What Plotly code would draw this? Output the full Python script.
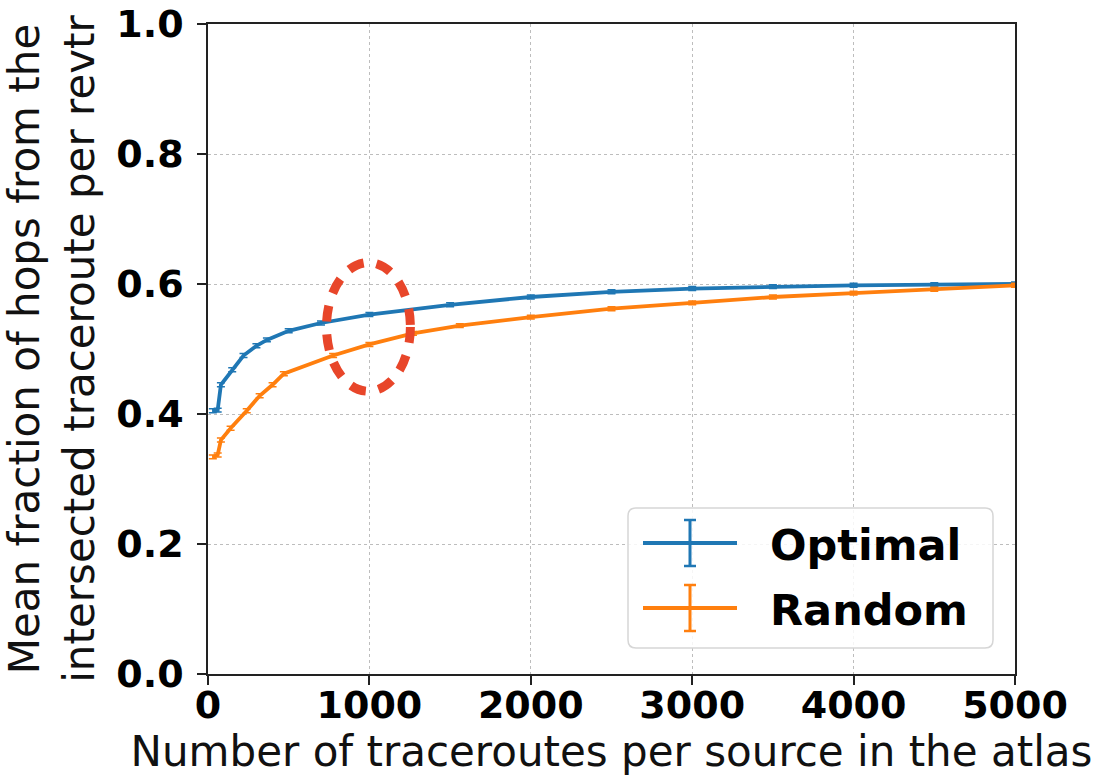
import plotly.graph_objects as go

# ---- data ----
opt_x = [30, 60, 80, 150, 220, 300, 365, 500, 700, 1000, 1500, 2000, 2500, 3000, 3500, 4000, 4500, 5000]
opt_y = [0.405, 0.406, 0.445, 0.468, 0.490, 0.505, 0.514, 0.528, 0.540, 0.553, 0.568, 0.580, 0.588, 0.593, 0.596, 0.598, 0.599, 0.600]
opt_err = [0.003] * len(opt_x)

rnd_x = [30, 60, 80, 140, 240, 320, 400, 470, 775, 1000, 1270, 1560, 2000, 2500, 3000, 3500, 4000, 4500, 5000]
rnd_y = [0.334, 0.337, 0.360, 0.378, 0.405, 0.428, 0.445, 0.462, 0.490, 0.507, 0.524, 0.536, 0.549, 0.562, 0.571, 0.580, 0.586, 0.592, 0.598]
rnd_err = [0.003] * len(rnd_x)

series_names = ["Optimal", "Random"]
x_ticks = [0, 1000, 2000, 3000, 4000, 5000]
y_ticks = [0.0, 0.2, 0.4, 0.6, 0.8, 1.0]

BLUE = "#1f77b4"
ORANGE = "#ff7f0e"
FONT = "DejaVu Sans"

# ---- layout geometry (page pixels) ----
W, H = 1096, 776
PL, PR, PT, PB = 208, 1015, 24, 674  # plot area


def px(x):
    return (x - PL) / (PR - PL)


def py(y):
    return (PB - y) / (PB - PT)


def rounded_rect(x0, y0, x1, y1, r):
    """SVG path (paper coords) for a rectangle given in page pixels, with rounded corners."""
    X0, X1, Y0, Y1 = px(x0), px(x1), py(y1), py(y0)  # Y0 bottom, Y1 top
    rx, ry = r / (PR - PL), r / (PB - PT)
    return (f"M {X0+rx},{Y0} L {X1-rx},{Y0} Q {X1},{Y0} {X1},{Y0+ry} "
            f"L {X1},{Y1-ry} Q {X1},{Y1} {X1-rx},{Y1} "
            f"L {X0+rx},{Y1} Q {X0},{Y1} {X0},{Y1-ry} "
            f"L {X0},{Y0+ry} Q {X0},{Y0} {X0+rx},{Y0} Z")


fig = go.Figure()
fig.add_trace(go.Scatter(
    x=opt_x, y=opt_y, mode="lines", name=series_names[0], showlegend=False,
    line=dict(color=BLUE, width=3.8),
    error_y=dict(type="data", array=opt_err, color=BLUE, thickness=1.5, width=4),
))
fig.add_trace(go.Scatter(
    x=rnd_x, y=rnd_y, mode="lines", name=series_names[1], showlegend=False,
    line=dict(color=ORANGE, width=3.8),
    error_y=dict(type="data", array=rnd_err, color=ORANGE, thickness=1.5, width=4),
))

# red dotted highlight ellipse
fig.add_shape(type="circle", xref="x", yref="y",
              x0=734, x1=1254, y0=0.435, y1=0.633,
              line=dict(color="#E8462A", width=9, dash="16px,13px"))

# ---- hand-built legend (matplotlib style, with error-bar glyphs) ----
fig.add_shape(type="path", xref="paper", yref="paper",
              path=rounded_rect(628, 508, 993, 648, 8),
              line=dict(color="#d6d6d6", width=1.5), fillcolor="rgba(255,255,255,0.85)",
              layer="above")
for name, color, yc in [(series_names[0], BLUE, 543), (series_names[1], ORANGE, 608)]:
    fig.add_shape(type="line", xref="paper", yref="paper", x0=px(643), x1=px(737),
                  y0=py(yc), y1=py(yc), line=dict(color=color, width=4), layer="above")
    fig.add_shape(type="line", xref="paper", yref="paper", x0=px(690), x1=px(690),
                  y0=py(yc - 23), y1=py(yc + 23), line=dict(color=color, width=3), layer="above")
    for dy in (-23, 23):
        fig.add_shape(type="line", xref="paper", yref="paper", x0=px(684), x1=px(696),
                      y0=py(yc + dy), y1=py(yc + dy), line=dict(color=color, width=2.5), layer="above")
    fig.add_annotation(xref="paper", yref="paper", x=px(768), y=py(yc + 2),
                       xanchor="left", yanchor="middle", showarrow=False,
                       text=f"<b>{name}</b>",
                       font=dict(family=FONT, size=43, color="black"))

axis_common = dict(
    showline=True, linecolor="#222", linewidth=1.5, mirror=True,
    ticks="outside", ticklen=9, tickwidth=1.5, tickcolor="#222",
    showgrid=True, gridcolor="#bdbdbd", griddash="dot", gridwidth=1.2,
    zeroline=False, automargin=False, ticklabeloverflow="allow",
    tickfont=dict(family=FONT, size=38, color="black", weight="bold"),
)

fig.update_xaxes(range=[0, 5000], tickvals=x_ticks,
                 ticktext=[str(v) for v in x_ticks],
                 title=dict(text="Number of traceroutes per source in the atlas",
                            font=dict(family=FONT, size=42, color="#111"), standoff=4),
                 ticklabelstandoff=-12,
                 **axis_common)
fig.update_yaxes(range=[0, 1.0], tickvals=y_ticks,
                 ticktext=[f"{v:.1f}" for v in y_ticks],
                 title=dict(text="Mean fraction of hops from the<br>intersected traceroute per revtr",
                            font=dict(family=FONT, size=42, color="#111"), standoff=14),
                 ticklabelstandoff=6,
                 **axis_common)

fig.update_layout(
    width=W, height=H,
    margin=dict(l=PL, r=W - PR, t=PT, b=H - PB, autoexpand=False),
    plot_bgcolor="white", paper_bgcolor="white",
    showlegend=False,
)

fig.write_html("out.html", config={"displayModeBar": False},
               post_script="document.body.style.margin='0px';document.body.style.overflow='hidden';")
